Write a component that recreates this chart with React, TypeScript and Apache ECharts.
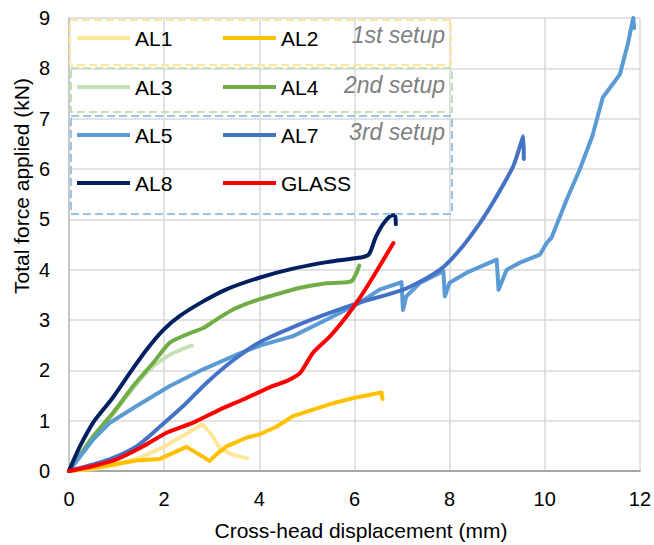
import React, { useEffect, useRef } from "react";
import * as echarts from "echarts";

const xTicks = [0, 2, 4, 6, 8, 10, 12];
const yTicks = [0, 1, 2, 3, 4, 5, 6, 7, 8, 9];

const AL1 = [[0,0],[0.5,0.04],[1.0,0.12],[1.5,0.27],[2.0,0.48],[2.3,0.65],[2.61,0.82],[2.8,0.93],[3.0,0.72],[3.17,0.45],[3.45,0.32],[3.75,0.25]];
const AL2 = [[0,0],[0.51,0.06],[0.93,0.13],[1.42,0.21],[1.91,0.24],[2.19,0.36],[2.47,0.48],[2.68,0.36],[2.96,0.2],[3.1,0.33],[3.31,0.49],[3.73,0.66],[4.01,0.73],[4.36,0.88],[4.71,1.09],[5.0,1.18],[5.49,1.33],[5.98,1.45],[6.57,1.56],[6.59,1.43]];
const AL3 = [[0,0],[0.5,0.62],[1.0,1.22],[1.5,1.82],[1.8,2.1],[2.1,2.3],[2.4,2.43],[2.58,2.49]];
const AL4 = [[0,0],[0.51,0.69],[0.93,1.16],[1.35,1.69],[1.77,2.15],[2.12,2.55],[2.47,2.71],[2.82,2.84],[3.1,3.01],[3.45,3.21],[3.87,3.37],[4.29,3.49],[4.86,3.64],[5.42,3.73],[5.84,3.75],[5.95,3.78],[6.05,3.95],[6.1,4.08]];
const AL5 = [[0,0],[0.51,0.63],[0.86,0.96],[1.42,1.29],[2.12,1.69],[2.82,2.02],[3.52,2.31],[4.01,2.49],[4.71,2.68],[5.42,3.01],[6.12,3.35],[6.54,3.61],[6.99,3.75],[7.02,3.2],[7.09,3.47],[7.38,3.74],[7.87,3.97],[7.9,3.47],[8.0,3.74],[8.36,3.94],[8.99,4.2],[9.03,3.6],[9.2,4.0],[9.48,4.14],[9.9,4.3],[10.04,4.53],[10.14,4.63],[10.46,5.39],[10.74,6.0],[11.0,6.65],[11.22,7.42],[11.4,7.65],[11.58,7.88],[11.75,8.5],[11.86,9.0],[11.88,8.8]];
const AL7 = [[0,0],[0.51,0.13],[0.93,0.26],[1.42,0.49],[1.91,0.88],[2.4,1.29],[2.89,1.75],[3.45,2.2],[4.01,2.56],[4.71,2.86],[5.42,3.12],[6.12,3.35],[6.6,3.48],[7.1,3.63],[7.8,4.0],[8.22,4.4],[8.64,4.93],[8.99,5.46],[9.34,6.06],[9.55,6.65],[9.56,6.2]];
const AL8 = [[0,0],[0.1,0.22],[0.23,0.49],[0.5,0.95],[0.72,1.22],[0.93,1.47],[1.28,1.95],[1.63,2.41],[1.98,2.8],[2.33,3.08],[2.82,3.37],[3.31,3.61],[4.0,3.84],[4.71,4.02],[5.42,4.15],[6.12,4.24],[6.3,4.3],[6.45,4.65],[6.62,4.93],[6.8,5.08],[6.86,5.08],[6.87,4.9]];
const GLASS = [[0,0],[0.51,0.1],[1.0,0.23],[1.56,0.49],[2.05,0.76],[2.61,0.96],[3.17,1.22],[3.66,1.42],[4.29,1.69],[4.58,1.79],[4.86,1.95],[5.13,2.35],[5.49,2.68],[5.84,3.08],[6.12,3.45],[6.4,3.87],[6.82,4.53]];

const seriesNames = ["AL1", "AL2", "AL3", "AL4", "AL5", "AL7", "AL8", "GLASS"];
const seriesData = [AL1, AL2, AL3, AL4, AL5, AL7, AL8, GLASS];
const seriesColors = ["#ffe699", "#ffc000", "#c5e0b4", "#70ad47", "#5b9bd5", "#4472c4", "#002060", "#ff0000"];
const seriesSmooth = [0, 0, 0.3, 0.25, 0, 0.25, 0.3, 0.2];
const setupLabels = ["1st setup", "2nd setup", "3rd setup"];

const FONT = "'Liberation Sans', Arial, Helvetica, sans-serif";

export default function App() {
  const ref = useRef<HTMLDivElement>(null);
  useEffect(() => {
    if (!ref.current) return;
    const chart = echarts.init(ref.current, null, { renderer: "svg" });

    const legendPos = [
      { x: 77, y: 38 }, { x: 223, y: 38 },
      { x: 77, y: 87 }, { x: 223, y: 87 },
      { x: 77, y: 135 }, { x: 223, y: 135 },
      { x: 77, y: 183 }, { x: 223, y: 183 },
    ];
    const legendEls: any[] = [];
    seriesNames.forEach((n, i) => {
      const p = legendPos[i];
      legendEls.push({
        type: "line",
        shape: { x1: p.x, y1: p.y, x2: p.x + 53, y2: p.y },
        style: { stroke: seriesColors[i], lineWidth: 4 },
        z: 100,
      });
      legendEls.push({
        type: "text",
        x: p.x + 58,
        y: p.y,
        style: { text: n, fill: "#000", font: `21px ${FONT}`, textVerticalAlign: "middle", textAlign: "left" },
        z: 100,
      });
    });
    const boxes = [
      { x: 70, y: 20, w: 381, h: 45, c: "#ffe699" },
      { x: 71, y: 68, w: 381, h: 44, c: "#c5e0b4" },
      { x: 71, y: 116, w: 381, h: 98, c: "#9dc3e6" },
    ];
    boxes.forEach((b) => {
      legendEls.push({
        type: "rect",
        shape: { x: b.x, y: b.y, width: b.w, height: b.h },
        style: { fill: "none", stroke: b.c, lineWidth: 2, lineDash: [8, 4] },
        z: 100,
      });
    });
    const setupY = [35, 85, 132];
    setupLabels.forEach((t, i) => {
      legendEls.push({
        type: "text",
        x: 445,
        y: setupY[i],
        style: { text: t, fill: "#808080", font: `italic 23px ${FONT}`, textAlign: "right", textVerticalAlign: "middle" },
        z: 100,
      });
    });
    legendEls.push({
      type: "text",
      x: 21,
      y: 186,
      rotation: Math.PI / 2,
      style: { text: "Total force applied (kN)", fill: "#000", font: `21px ${FONT}`, textAlign: "center", textVerticalAlign: "middle" },
    });
    legendEls.push({
      type: "text",
      x: 361,
      y: 530,
      style: { text: "Cross-head displacement (mm)", fill: "#000", font: `21px ${FONT}`, textAlign: "center", textVerticalAlign: "middle" },
    });

    chart.setOption({
      animation: false,
      backgroundColor: "#ffffff",
      grid: { left: 69, right: 14, top: 18, bottom: 74, containLabel: false },
      xAxis: {
        type: "value",
        min: xTicks[0],
        max: xTicks[xTicks.length - 1],
        interval: 2,
        axisLine: { show: true, lineStyle: { color: "#a6a6a6", width: 2 } },
        axisTick: { show: false },
        axisLabel: { color: "#000", fontSize: 20, fontFamily: FONT, margin: 18 },
        splitLine: { show: true, lineStyle: { color: "#d9d9d9", width: 1.5 } },
      },
      yAxis: {
        type: "value",
        min: yTicks[0],
        max: yTicks[yTicks.length - 1],
        interval: 1,
        axisLine: { show: true, lineStyle: { color: "#bfbfbf", width: 1.5 } },
        axisTick: { show: false },
        axisLabel: { color: "#000", fontSize: 20, fontFamily: FONT, margin: 19 },
        splitLine: { show: true, lineStyle: { color: "#d9d9d9", width: 1.5 } },
      },
      series: seriesNames.map((n, i) => ({
        name: n,
        type: "line",
        data: seriesData[i],
        showSymbol: false,
        symbol: "none",
        smooth: seriesSmooth[i] || false,
        clip: true,
        lineStyle: { color: seriesColors[i], width: 4, cap: "round", join: "round" },
        itemStyle: { color: seriesColors[i] },
        z: 2 + i * 0.01,
      })),
      graphic: legendEls,
    });
    return () => chart.dispose();
  }, []);
  return <div ref={ref} style={{ position: "fixed", left: 0, top: 0, width: 654, height: 545 }} />;
}
